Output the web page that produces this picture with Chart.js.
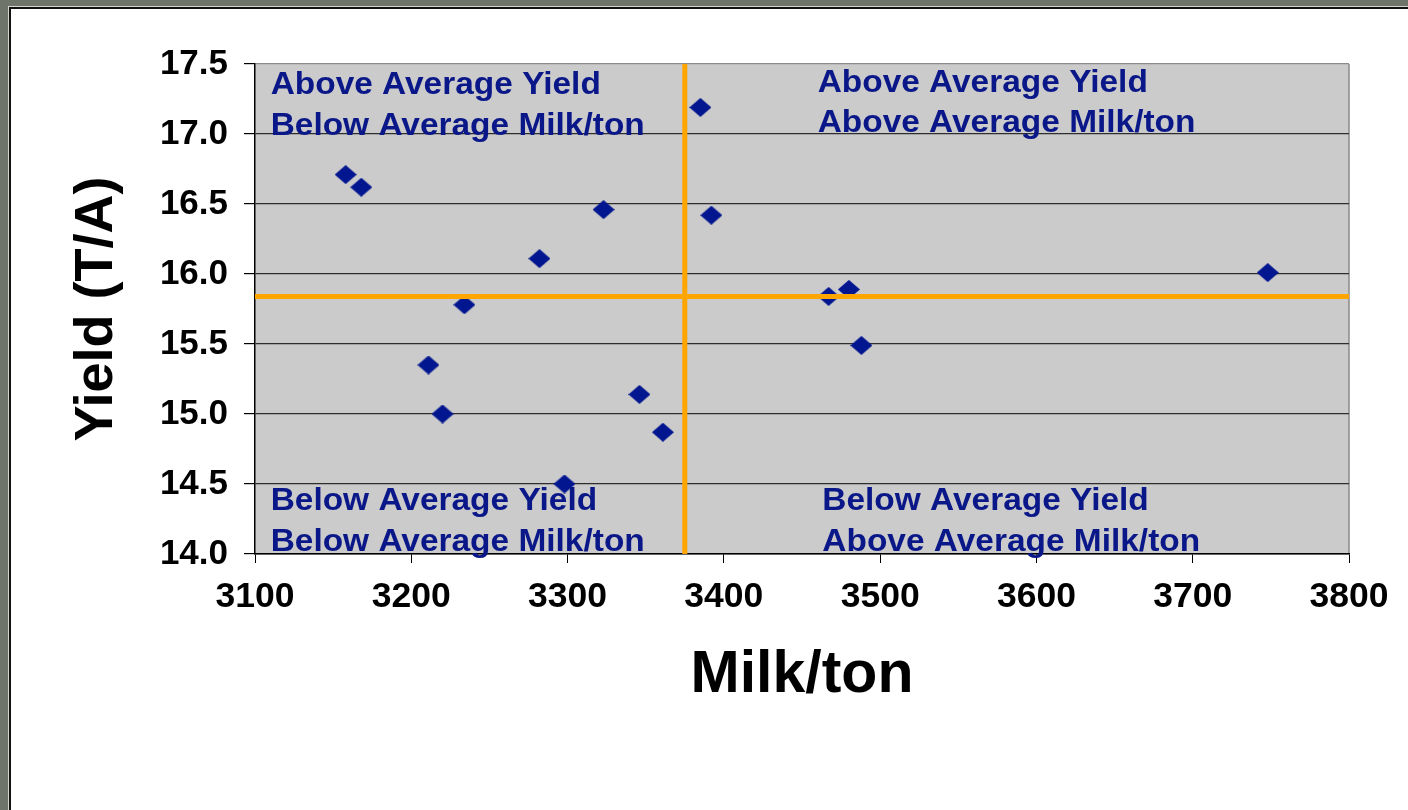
<!DOCTYPE html>
<html>
<head>
<meta charset="utf-8">
<title>Yield vs Milk/ton</title>
<script src="https://cdn.jsdelivr.net/npm/chart.js@4/dist/chart.umd.min.js"></script>
<style>
  html, body { margin: 0; padding: 0; }
  body { width: 1408px; height: 810px; overflow: hidden; position: relative;
         background: #6f746a; }
  #frame { position: absolute; left: 8px; top: 6px; right: 0; bottom: 0;
           border-left: 1px solid #d4d7ce; border-top: 1px solid #d4d7ce; }
  #panel { position: absolute; left: 0; top: 0; right: 0; bottom: 0;
           border-left: 2px solid #111; border-top: 2px solid #111; background: #fff; }
  #wrap { position: absolute; left: 0; top: 0; width: 1408px; height: 810px; }
</style>
</head>
<body>
<div id="frame"><div id="panel"></div></div>
<div id="wrap"><canvas id="chart" width="1408" height="810"></canvas></div>
<script>
// Milk per ton (x) and yield in tons per acre (y) for each hybrid
const milkPerTon = [3158, 3168, 3211, 3220, 3234, 3282, 3298, 3323, 3346, 3361, 3385, 3392, 3467, 3480, 3488, 3748];
const yieldTA    = [16.71, 16.62, 15.35, 15.00, 15.78, 16.11, 14.50, 16.46, 15.14, 14.87, 17.19, 16.42, 15.84, 15.89, 15.49, 16.01];

// Averages that split the plot into quadrants
const avgMilkPerTon = [3375];
const avgYield = [15.84];

// Axis ranges and ticks
const xTicks = [3100, 3200, 3300, 3400, 3500, 3600, 3700, 3800];
const yTicks = [14.0, 14.5, 15.0, 15.5, 16.0, 16.5, 17.0, 17.5];

// Quadrant captions
const quadrantText = [
  ['Above Average Yield', 'Below Average Milk/ton'],
  ['Above Average Yield', 'Above Average Milk/ton'],
  ['Below Average Yield', 'Below Average Milk/ton'],
  ['Below Average Yield', 'Above Average Milk/ton']
];

const FONT = "'Liberation Sans', Arial, Helvetica, sans-serif";
const NAVY = '#0a1788';

// Diamond marker, a bit wider than tall
function makeDiamond(w, h, color) {
  const c = document.createElement('canvas');
  c.width = w; c.height = h;
  const g = c.getContext('2d');
  g.fillStyle = color;
  g.beginPath();
  g.moveTo(w / 2, 0); g.lineTo(w, h / 2); g.lineTo(w / 2, h); g.lineTo(0, h / 2);
  g.closePath(); g.fill();
  return c;
}
const diamond = makeDiamond(22, 19, '#021690');

const points = milkPerTon.map((x, i) => ({ x: x, y: yieldTA[i] }));
const xMin = xTicks[0], xMax = xTicks[xTicks.length - 1];
const yMin = yTicks[0], yMax = yTicks[yTicks.length - 1];

// Plot background and the light frame on the right edge
const plotBackground = {
  id: 'plotBackground',
  beforeDraw(chart) {
    const { ctx, chartArea: a } = chart;
    ctx.save();
    ctx.fillStyle = '#cbcbcb';
    ctx.fillRect(a.left, a.top, a.right - a.left, a.bottom - a.top);
    ctx.strokeStyle = '#8a8a8a';
    ctx.lineWidth = 1.5;
    ctx.beginPath();
    ctx.moveTo(a.right, a.top);
    ctx.lineTo(a.right, a.bottom);
    ctx.stroke();
    ctx.restore();
  }
};

// Quadrant captions, anchored in data space, set slightly wide
const captionAnchors = [
  { x: 3110, y1: 17.350, y2: 17.057 },
  { x: 3460, y1: 17.365, y2: 17.079 },
  { x: 3110, y1: 14.379, y2: 14.086 },
  { x: 3463, y1: 14.379, y2: 14.086 }
];
const CAPTION_STRETCH = 1.045;
const quadrantCaptions = {
  id: 'quadrantCaptions',
  beforeDatasetsDraw(chart) {
    const { ctx, scales: { x, y } } = chart;
    ctx.save();
    ctx.fillStyle = NAVY;
    ctx.font = 'bold 32px ' + FONT;
    ctx.textAlign = 'left';
    ctx.textBaseline = 'middle';
    captionAnchors.forEach((p, i) => {
      const px = x.getPixelForValue(p.x);
      [p.y1, p.y2].forEach((v, k) => {
        ctx.save();
        ctx.translate(px, y.getPixelForValue(v));
        ctx.scale(CAPTION_STRETCH, 1);
        ctx.fillText(quadrantText[i][k], 0, 0);
        ctx.restore();
      });
    });
    ctx.restore();
  }
};

new Chart(document.getElementById('chart'), {
  type: 'scatter',
  data: {
    datasets: [
      {
        label: 'Average Milk/ton',
        type: 'line',
        data: [{ x: avgMilkPerTon[0], y: yMin }, { x: avgMilkPerTon[0], y: yMax }],
        borderColor: '#ffa500',
        borderWidth: 5,
        pointRadius: 0,
        fill: false,
        order: 0
      },
      {
        label: 'Average Yield',
        type: 'line',
        data: [{ x: xMin, y: avgYield[0] }, { x: xMax, y: avgYield[0] }],
        borderColor: '#ffa500',
        borderWidth: 5,
        pointRadius: 0,
        fill: false,
        order: 0
      },
      {
        label: 'Hybrids',
        data: points,
        pointStyle: diamond,
        pointRadius: 10,
        backgroundColor: '#021690',
        borderColor: '#021690',
        order: 1
      }
    ]
  },
  options: {
    responsive: false,
    animation: false,
    events: [],
    layout: { padding: { left: 0, top: 64, right: 59, bottom: 0 } },
    plugins: {
      legend: { display: false },
      tooltip: { enabled: false }
    },
    scales: {
      x: {
        type: 'linear',
        min: xMin,
        max: xMax,
        afterBuildTicks(scale) { scale.ticks = xTicks.map(v => ({ value: v })); },
        afterFit(scale) { scale.height = 256; },
        ticks: {
          color: '#000',
          font: { family: FONT, size: 35.5, weight: 'bold' },
          padding: 13,
          maxRotation: 0,
          callback: v => String(v)
        },
        grid: {
          drawOnChartArea: false,
          drawTicks: true,
          tickLength: 9,
          tickColor: '#000',
          tickWidth: 1
        },
        border: { display: true, color: '#000', width: 1.5 },
        title: {
          display: true,
          text: 'Milk/ton',
          color: '#000',
          font: { family: FONT, size: 59, weight: 'bold' },
          padding: { top: 0, bottom: 99 }
        }
      },
      y: {
        type: 'linear',
        min: yMin,
        max: yMax,
        afterBuildTicks(scale) { scale.ticks = yTicks.map(v => ({ value: v })); },
        afterFit(scale) { scale.width = 255; },
        ticks: {
          color: '#000',
          font: { family: FONT, size: 35, weight: 'bold' },
          padding: 16,
          callback: v => Number(v).toFixed(1)
        },
        grid: {
          drawOnChartArea: true,
          drawTicks: true,
          tickLength: 11,
          tickColor: '#000',
          color: ctx => (ctx.tick && ctx.tick.value === yMax) ? '#8a8a8a' : '#2e2e2e',
          lineWidth: 1.2
        },
        border: { display: true, color: '#000', width: 1.5 },
        title: {
          display: true,
          text: 'Yield (T/A)',
          color: '#000',
          font: { family: FONT, size: 54, weight: 'bold' },
          padding: { top: 65, bottom: 0 }
        }
      }
    }
  },
  plugins: [plotBackground, quadrantCaptions]
});
</script>
</body>
</html>
